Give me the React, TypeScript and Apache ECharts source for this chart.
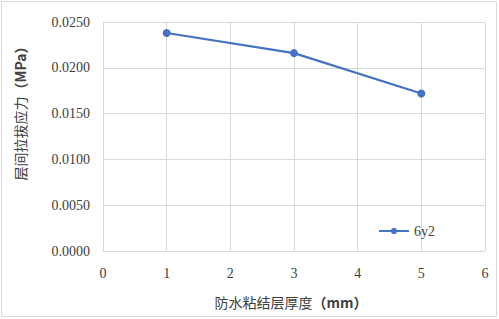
import React, { useEffect, useRef } from "react";
import * as echarts from "echarts";

const xValues = [1, 3, 5];
const yValues = [0.0238, 0.0216, 0.0172];
const seriesName = "6y2";
const xTitle = "防水粘结层厚度";
const yTitle = "层间拉拔应力";

export default function App() {
  const ref = useRef<HTMLDivElement>(null);
  useEffect(() => {
    if (!ref.current) return;
    const chart = echarts.init(ref.current, undefined, { renderer: "svg" });
    const serif = "Liberation Serif";
    const cjk = "Noto Sans CJK SC";
    chart.setOption({
      animation: false,
      backgroundColor: "#ffffff",
      grid: { left: 103, right: 14, top: 22, bottom: 68, containLabel: false },
      xAxis: {
        type: "value",
        min: 0,
        max: 6,
        interval: 1,
        axisLine: { show: true, lineStyle: { color: "#D9D9D9", width: 1 } },
        axisTick: { show: false },
        splitLine: { show: true, lineStyle: { color: "#D9D9D9", width: 1 } },
        axisLabel: { color: "#404040", fontFamily: serif, fontSize: 14, margin: 15 },
      },
      yAxis: {
        type: "value",
        min: 0,
        max: 0.025,
        interval: 0.005,
        axisLine: { show: true, lineStyle: { color: "#D9D9D9", width: 1 } },
        axisTick: { show: false },
        splitLine: { show: true, lineStyle: { color: "#D9D9D9", width: 1 } },
        axisLabel: {
          color: "#404040",
          fontFamily: serif,
          fontSize: 14,
          margin: 13,
          formatter: (v: number) => v.toFixed(4),
        },
      },
      legend: {
        left: 373,
        top: 219,
        itemWidth: 30,
        itemHeight: 8,
        itemGap: 4,
        textStyle: { color: "#404040", fontFamily: serif, fontSize: 14 },
        data: [seriesName],
      },
      series: [
        {
          name: seriesName,
          type: "line",
          data: xValues.map((x, i) => [x, yValues[i]]),
          symbol: "circle",
          symbolSize: 8,
          itemStyle: { color: "#4472C4" },
          lineStyle: { color: "#4472C4", width: 2.25 },
        },
      ],
      graphic: [
        {
          type: "rect",
          shape: { x: 1.5, y: 1.5, width: 495, height: 315 },
          style: { fill: "none", stroke: "#D9D9D9", lineWidth: 1 },
          silent: true,
        },
        {
          type: "text",
          x: 291,
          y: 302,
          style: {
            text: "{a|" + xTitle + "}{b|（mm）}",
            align: "center",
            verticalAlign: "middle",
            rich: {
              a: { fontFamily: cjk, fontSize: 14, fill: "#404040" },
              b: { fontFamily: cjk, fontSize: 14, fontWeight: "bold", fill: "#404040" },
            },
          },
        },
        {
          type: "text",
          x: 20,
          y: 110,
          rotation: Math.PI / 2,
          style: {
            text: "{a|" + yTitle + "}{b|（MPa）}",
            align: "center",
            verticalAlign: "middle",
            rich: {
              a: { fontFamily: cjk, fontSize: 14, fill: "#404040" },
              b: { fontFamily: cjk, fontSize: 14, fontWeight: "bold", fill: "#404040" },
            },
          },
        },
      ],
    });
    return () => chart.dispose();
  }, []);
  return <div ref={ref} style={{ width: 499, height: 319, position: "absolute", left: 0, top: 0 }} />;
}
